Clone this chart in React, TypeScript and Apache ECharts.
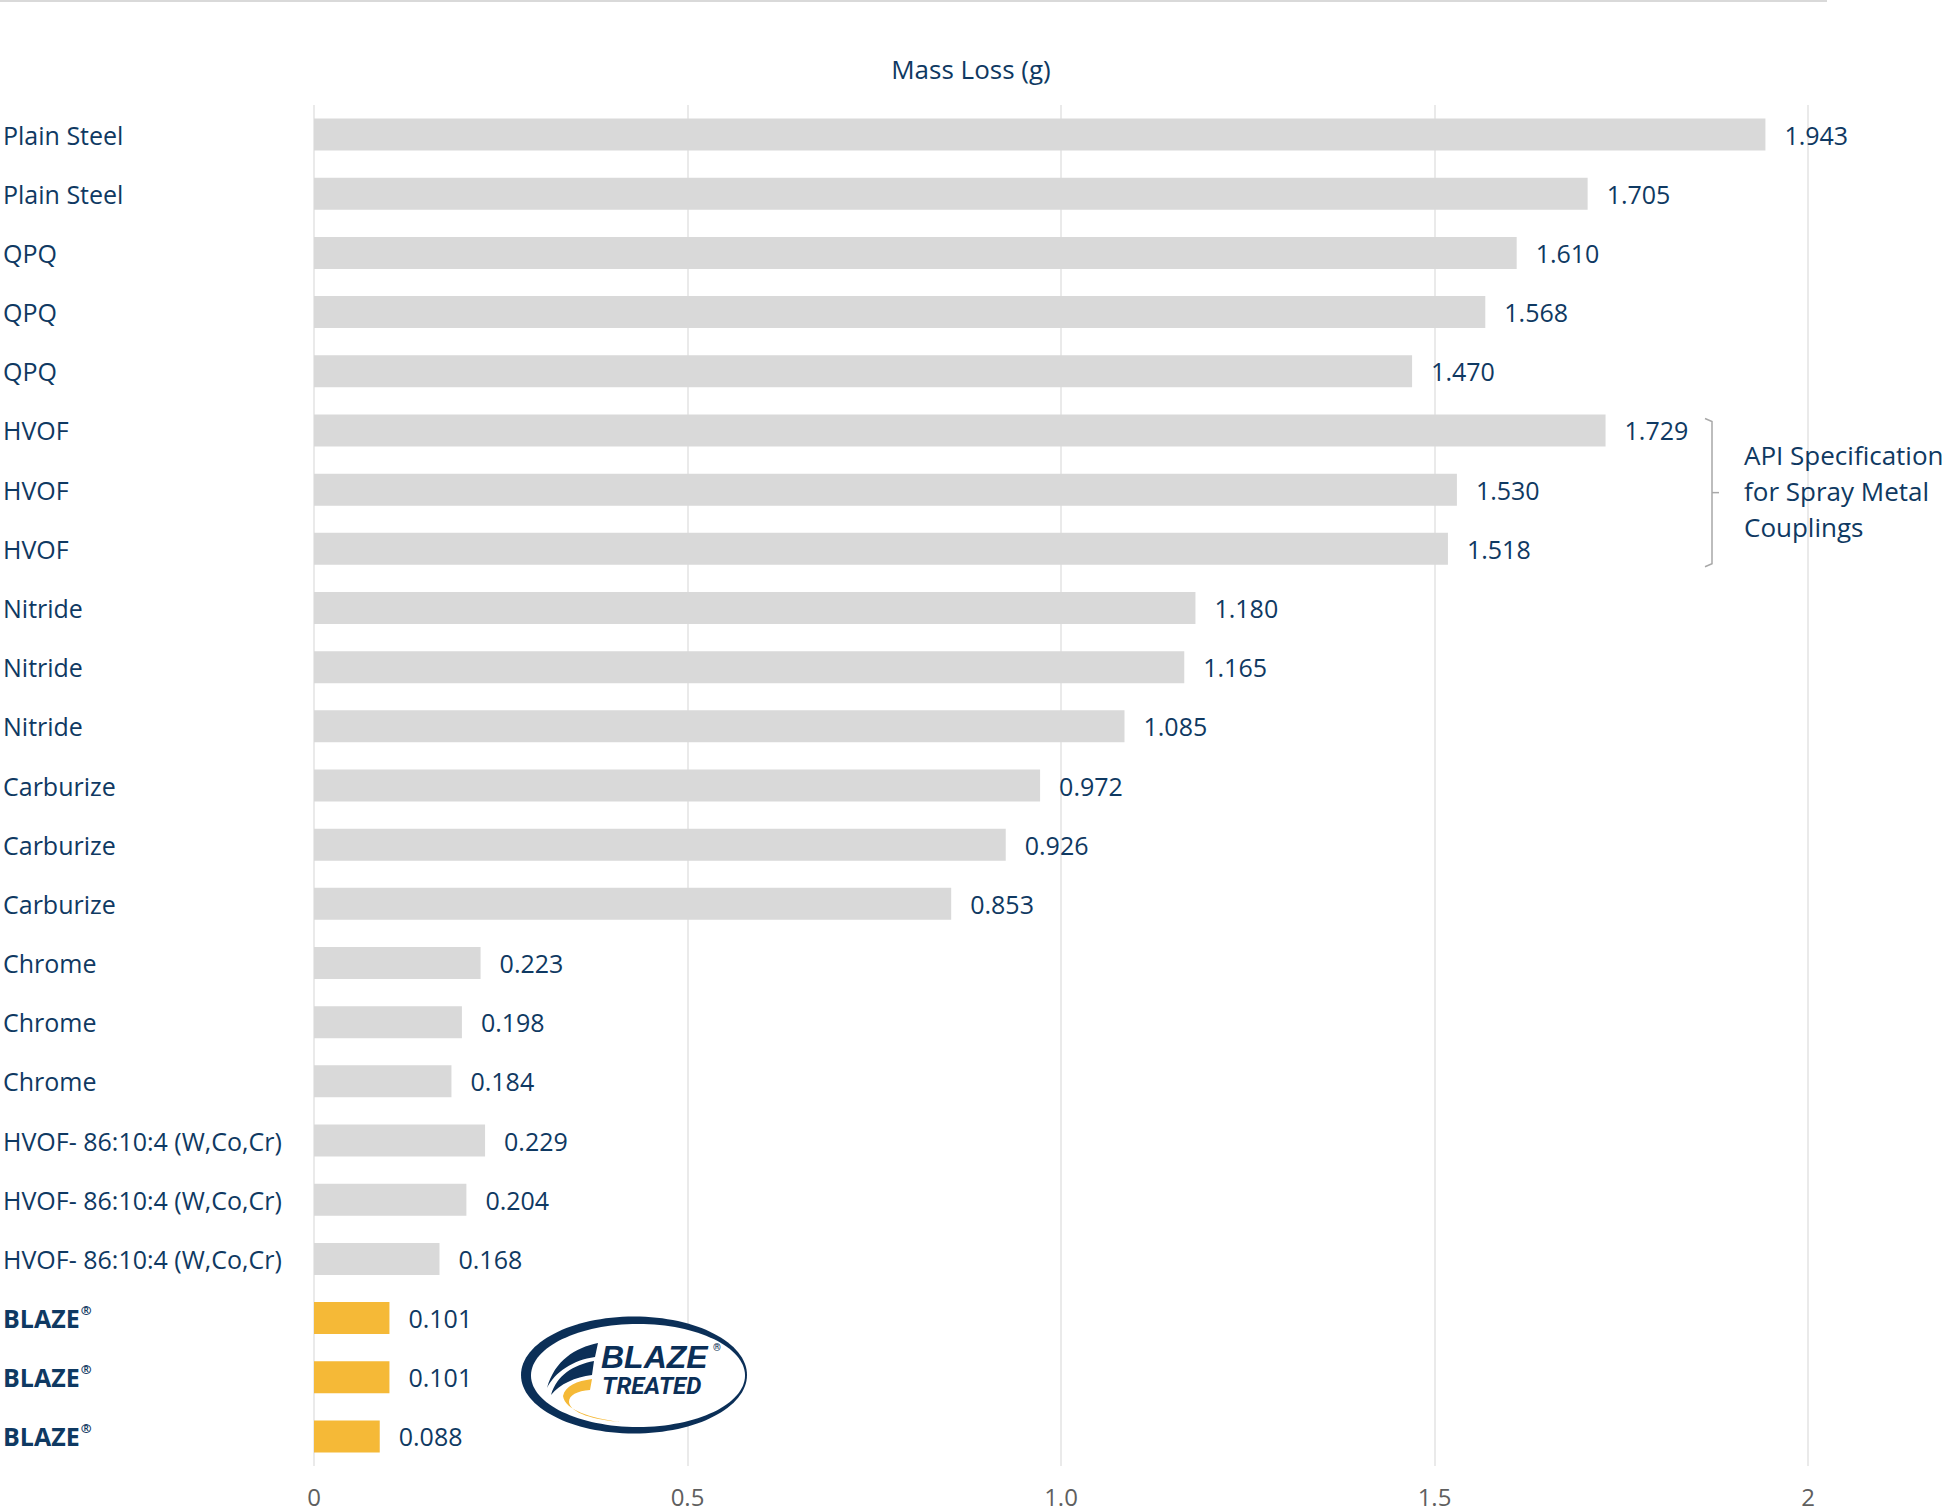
import React, { useEffect, useRef } from 'react';
import * as echarts from 'echarts';

const categories = [
  'Plain Steel', 'Plain Steel',
  'QPQ', 'QPQ', 'QPQ',
  'HVOF', 'HVOF', 'HVOF',
  'Nitride', 'Nitride', 'Nitride',
  'Carburize', 'Carburize', 'Carburize',
  'Chrome', 'Chrome', 'Chrome',
  'HVOF- 86:10:4 (W,Co,Cr)', 'HVOF- 86:10:4 (W,Co,Cr)', 'HVOF- 86:10:4 (W,Co,Cr)',
  'BLAZE®', 'BLAZE®', 'BLAZE®',
];
const massLoss = [
  1.943, 1.705,
  1.610, 1.568, 1.470,
  1.729, 1.530, 1.518,
  1.180, 1.165, 1.085,
  0.972, 0.926, 0.853,
  0.223, 0.198, 0.184,
  0.229, 0.204, 0.168,
  0.101, 0.101, 0.088,
];
const xTickLabels = ['0', '0.5', '1.0', '1.5', '2'];
const axisTitle = 'Mass Loss (g)';
const annotationLines = ['API Specification', 'for Spray Metal', 'Couplings'];
const annotatedRange = [5, 7];
const highlightName = 'BLAZE®';

const NAVY = '#0f3962';
const LOGO_NAVY = '#0b2f57';
const GRAY_BAR = '#d9d9d9';
const YELLOW = '#f5b937';
const FONT = '"Open Sans", "Noto Sans", sans-serif';

const swoosh1 = 'M83,33 C60,38 40,50 32,78 C40,62 58,50 80,47 Z';
const swoosh2 = 'M79,51 C58,55 42,65 36,85 C45,74 60,67 77,65 Z';
const swoosh3 = 'M77,69 C62,71 50,76 48,86 C50,100 75,108 105,112 C80,110 55,103 54,92 C54,85 62,81 75,80 Z';

let registered = false;
function registerShapes() {
  if (registered) return;
  registered = true;
  echarts.graphic.registerShape('swooshA', echarts.graphic.extendPath(swoosh1, {}));
  echarts.graphic.registerShape('swooshB', echarts.graphic.extendPath(swoosh2, {}));
  echarts.graphic.registerShape('swooshC', echarts.graphic.extendPath(swoosh3, {}));
}

export default function App() {
  const ref = useRef<HTMLDivElement>(null);

  useEffect(() => {
    document.body.style.margin = '0';
    registerShapes();
    const chart = echarts.init(ref.current as HTMLDivElement, null, { renderer: 'svg' });
    const option: any = {
      animation: false,
      textStyle: { fontFamily: FONT },
      title: {
        text: axisTitle,
        left: 966,
        top: 51,
        textAlign: 'center',
        textStyle: { fontSize: 26, fontWeight: 'normal', color: NAVY, fontFamily: FONT },
      },
      grid: { left: 312, top: 105, width: 1496, height: 1361, containLabel: false },
      xAxis: {
        type: 'value',
        min: 0,
        max: 2,
        interval: 0.5,
        axisLine: { show: false },
        axisTick: { show: false },
        splitLine: { show: true, lineStyle: { color: '#e3e3e3', width: 1.5 } },
        axisLabel: {
          margin: 18,
          fontSize: 24,
          color: '#5f5f5f',
          fontFamily: FONT,
          formatter: (v: number) => xTickLabels[Math.round(v / 0.5)] ?? String(v),
        },
      },
      yAxis: {
        type: 'category',
        inverse: true,
        data: categories,
        axisLine: { show: false },
        axisTick: { show: false },
        splitLine: { show: false },
        axisLabel: {
          align: 'left',
          margin: 311,
          fontSize: 25,
          color: NAVY,
          fontFamily: FONT,
          interval: 0,
          formatter: (v: string) => (v === highlightName ? '{b|BLAZE}{r|®}' : v),
          rich: {
            b: { fontSize: 25, fontWeight: 'bold', color: NAVY, fontFamily: FONT, lineHeight: 30 },
            r: { fontSize: 13, fontWeight: 'bold', color: NAVY, fontFamily: FONT, verticalAlign: 'top', lineHeight: 30, padding: [0, 0, 12, 1] },
          },
        },
      },
      series: [
        {
          type: 'bar',
          barWidth: 32,
          data: massLoss.map((v, i) => ({
            value: v,
            itemStyle: { color: categories[i] === highlightName ? YELLOW : GRAY_BAR },
          })),
          label: {
            show: true,
            position: 'right',
            distance: 19,
            fontSize: 25,
            color: NAVY,
            fontFamily: FONT,
            formatter: (p: any) => Number(p.value).toFixed(3),
          },
        },
      ],
    };
    chart.setOption(option);

    const yA = chart.convertToPixel({ yAxisIndex: 0 }, annotatedRange[0]) as number;
    const yB = chart.convertToPixel({ yAxisIndex: 0 }, annotatedRange[1]) as number;
    const top = yA - 12;
    const bot = yB + 18;
    const mid = (top + bot) / 2;
    const bx = 1712;

    const graphic: any[] = [
      {
        type: 'line',
        shape: { x1: 0, y1: 1, x2: 1827, y2: 1 },
        style: { stroke: '#d9d9d9', lineWidth: 2 },
      },
      {
        type: 'polyline',
        shape: { points: [[bx - 7, top], [bx, top + 3], [bx, bot - 3], [bx - 7, bot]] },
        style: { stroke: '#a8a8a8', lineWidth: 1.5, fill: null },
      },
      {
        type: 'line',
        shape: { x1: bx, y1: mid, x2: bx + 7, y2: mid },
        style: { stroke: '#a8a8a8', lineWidth: 1.5 },
      },
      ...annotationLines.map((t, i) => ({
        type: 'text',
        x: 1744,
        y: mid - 38 + i * 36,
        style: {
          text: t,
          fontSize: 26,
          fontFamily: FONT,
          fill: NAVY,
          textAlign: 'left',
          textVerticalAlign: 'middle',
        },
      })),
      // logo
      {
        type: 'ellipse',
        shape: { cx: 634, cy: 1375, rx: 113, ry: 58.5 },
        style: { fill: LOGO_NAVY },
      },
      {
        type: 'ellipse',
        shape: { cx: 638, cy: 1375.5, rx: 107, ry: 51.5 },
        style: { fill: '#ffffff' },
      },
      { type: 'swooshA', x: 515, y: 1310, style: { fill: LOGO_NAVY } },
      { type: 'swooshB', x: 515, y: 1310, style: { fill: LOGO_NAVY } },
      { type: 'swooshC', x: 515, y: 1310, style: { fill: YELLOW } },
      {
        type: 'text',
        x: 601,
        y: 1357,
        style: {
          text: 'BLAZE',
          fontSize: 32,
          fontWeight: 'bold',
          fontStyle: 'italic',
          fontFamily: '"Liberation Sans", Arial, sans-serif',
          fill: LOGO_NAVY,
          textAlign: 'left',
          textVerticalAlign: 'middle',
        },
      },
      {
        type: 'text',
        x: 713,
        y: 1342,
        style: {
          text: '®',
          fontSize: 10,
          fontWeight: 'bold',
          fontFamily: 'Roboto, sans-serif',
          fill: LOGO_NAVY,
          textAlign: 'left',
          textVerticalAlign: 'top',
        },
      },
      {
        type: 'text',
        x: 602,
        y: 1386,
        style: {
          text: 'TREATED',
          fontSize: 24,
          fontWeight: 'bold',
          fontStyle: 'italic',
          fontFamily: 'Roboto, "Open Sans", sans-serif',
          fill: LOGO_NAVY,
          textAlign: 'left',
          textVerticalAlign: 'middle',
        },
      },
    ];
    chart.setOption({ graphic });

    return () => chart.dispose();
  }, []);

  return <div ref={ref} style={{ width: 1942, height: 1510 }} />;
}
